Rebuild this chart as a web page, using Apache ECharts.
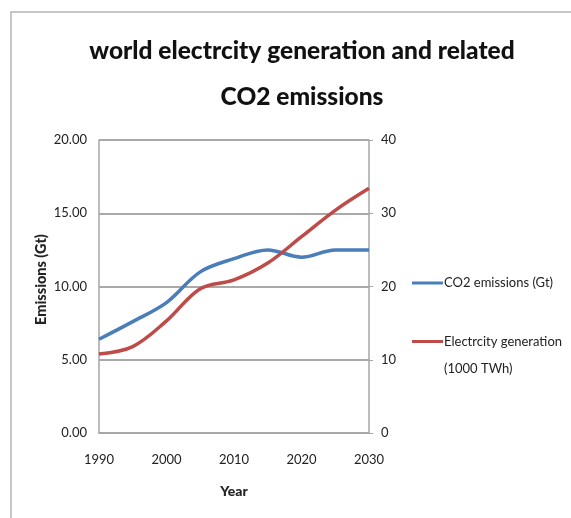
<!DOCTYPE html>
<html>
<head>
<meta charset="utf-8">
<script src="https://cdn.jsdelivr.net/npm/echarts@6/dist/echarts.min.js"></script>
<style>
  html, body { margin: 0; padding: 0; background: #fff; }
  #chart { width: 571px; height: 518px; }
</style>
</head>
<body>
<div id="chart"></div>
<script>
// Years sampled every five years
const years = [1990, 1995, 2000, 2005, 2010, 2015, 2020, 2025, 2030];
// CO2 emissions, Gt (left axis)
const co2Emissions = [6.4, 7.6, 8.9, 11.0, 11.9, 12.5, 12.0, 12.5, 12.5];
// Electricity generation, 1000 TWh (right axis)
const electricity = [10.8, 11.8, 15.3, 19.7, 20.9, 23.2, 26.8, 30.4, 33.4];
const leftTicks = [0, 5, 10, 15, 20];
const rightTicks = [0, 10, 20, 30, 40];

const FONT = 'Lato';
const toPairs = (vals) => years.map((y, i) => [y, vals[i]]);

const titleStyle = { fontFamily: FONT, fontSize: 24.5, fontWeight: 900, color: '#111' };
const legendText = { fontFamily: FONT, fontSize: 13, color: '#222', padding: [0, 0, 0, -4] };

const chart = echarts.init(document.getElementById('chart'));
chart.setOption({
  animation: false,
  backgroundColor: '#fff',
  textStyle: { fontFamily: FONT },
  graphic: [{
    type: 'rect',
    shape: { x: 11, y: 12, width: 620, height: 620 },
    style: { fill: 'none', stroke: '#b4b4b4', lineWidth: 1.5 },
    silent: true
  }],
  title: [
    { text: 'world electrcity generation and related', left: 297, top: 34, textAlign: 'center', textStyle: titleStyle },
    { text: 'CO2 emissions', left: 297, top: 80, textAlign: 'center', textStyle: titleStyle }
  ],
  legend: [
    {
      left: 407, top: 270,
      itemWidth: 31, itemHeight: 3, icon: 'rect',
      textStyle: Object.assign({ lineHeight: 16 }, legendText),
      data: ['CO2 emissions (Gt)']
    },
    {
      left: 407, top: 296,
      itemWidth: 31, itemHeight: 3, icon: 'rect',
      formatter: () => '\nElectrcity generation\n(1000 TWh)',
      textStyle: Object.assign({ lineHeight: 27 }, legendText),
      data: ['Electrcity generation (1000 TWh)']
    }
  ],
  grid: { left: 99, right: 202, top: 140, bottom: 85, containLabel: false },
  xAxis: {
    type: 'value',
    min: 1990, max: 2030, interval: 10,
    name: 'Year', nameLocation: 'middle', nameGap: 51,
    nameTextStyle: { fontFamily: FONT, fontSize: 14, fontWeight: 900, color: '#222' },
    axisLine: { show: true, lineStyle: { color: '#a6a6a6', width: 1.5 } },
    axisTick: { show: false },
    splitLine: { show: false },
    axisLabel: { fontSize: 13, color: '#222', margin: 20, formatter: (v) => String(v) }
  },
  yAxis: [
    {
      type: 'value', min: leftTicks[0], max: leftTicks[leftTicks.length - 1], interval: 5,
      name: 'Emissions (Gt)', nameLocation: 'middle', nameGap: 50, nameRotate: 90,
      nameTextStyle: { fontFamily: FONT, fontSize: 14.5, fontWeight: 900, color: '#222', padding: [0, 0, 0, 14] },
      axisLine: { show: true, lineStyle: { color: '#a6a6a6', width: 1.5 } },
      axisTick: { show: false },
      splitLine: { show: true, lineStyle: { color: '#8c8c8c', width: 1.5 } },
      axisLabel: { fontSize: 13, color: '#222', margin: 12, formatter: (v) => v.toFixed(2) }
    },
    {
      type: 'value', min: rightTicks[0], max: rightTicks[rightTicks.length - 1], interval: 10,
      position: 'right',
      axisLine: { show: true, lineStyle: { color: '#a6a6a6', width: 1.5 } },
      axisTick: { show: true, inside: false, length: 4, lineStyle: { color: '#a6a6a6' } },
      splitLine: { show: false },
      axisLabel: { fontSize: 13, color: '#222', margin: 12 }
    }
  ],
  series: [
    {
      name: 'CO2 emissions (Gt)', type: 'line', yAxisIndex: 0,
      data: toPairs(co2Emissions), smooth: 0.35, showSymbol: false,
      lineStyle: { color: '#4a7ebb', width: 3.5 }, itemStyle: { color: '#4a7ebb' }
    },
    {
      name: 'Electrcity generation (1000 TWh)', type: 'line', yAxisIndex: 1,
      data: toPairs(electricity), smooth: 0.35, showSymbol: false,
      lineStyle: { color: '#be4b48', width: 3.5 }, itemStyle: { color: '#be4b48' }
    }
  ]
});
</script>
</body>
</html>
